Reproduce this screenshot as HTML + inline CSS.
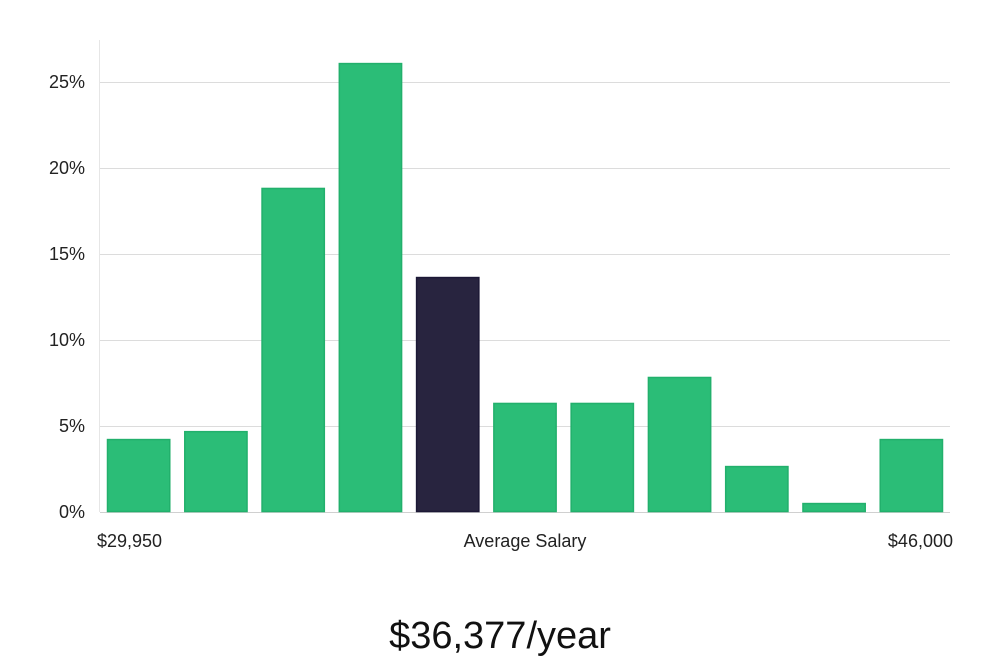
<!DOCTYPE html>
<html><head><meta charset="utf-8"><style>
html,body{margin:0;padding:0;background:#fff;}
svg{display:block;font-family:"Liberation Sans","DejaVu Sans",sans-serif;}
</style></head><body>
<svg id="chart" width="1000" height="660" viewBox="0 0 1000 660">
<g id="grid"></g>
<line x1="99.5" y1="40" x2="99.5" y2="512" stroke="#e6e6e6"/>
<g id="yticks"></g>
<g id="bars"></g>
<text x="97" y="547" font-size="18" fill="#222">$29,950</text>
<text x="525" y="547" font-size="18" fill="#222" text-anchor="middle">Average Salary</text>
<text x="953" y="547" font-size="18" fill="#222" text-anchor="end">$46,000</text>
<text x="500" y="648" font-size="38" fill="#111" text-anchor="middle">$36,377/year</text>
</svg>
<script>
const categories = ["b1","b2","b3","b4","b5","b6","b7","b8","b9","b10","b11"];
const values = [4.24, 4.7, 18.84, 26.1, 13.66, 6.34, 6.34, 7.85, 2.67, 0.52, 4.24];
const highlightIndex = 4;
const tickValues = [0, 5, 10, 15, 20, 25];
const tickLabels = ["0%","5%","10%","15%","20%","25%"];

const NS = "http://www.w3.org/2000/svg";
const plotLeft = 100, plotRight = 950, y0 = 512, pxPerUnit = 86/5;
function yScale(v){ return y0 - v*pxPerUnit; }
const slot = (plotRight - plotLeft)/categories.length;
function xScale(i){ return plotLeft + i*slot + 7; }
const barW = slot - 14;

const grid = document.getElementById("grid");
const yt = document.getElementById("yticks");
tickValues.forEach((t,i)=>{
  const y = Math.round(yScale(t)) + 0.5;
  const l = document.createElementNS(NS,"line");
  l.setAttribute("x1",100); l.setAttribute("x2",950);
  l.setAttribute("y1",y); l.setAttribute("y2",y);
  l.setAttribute("stroke",t===0?"#d0d0d0":"#dcdcdc");
  
  
  grid.appendChild(l);
  const tx = document.createElementNS(NS,"text");
  tx.setAttribute("x",85); tx.setAttribute("y",yScale(t)+6);
  tx.setAttribute("text-anchor","end"); tx.setAttribute("font-size","18"); tx.setAttribute("fill","#222");
  tx.textContent = tickLabels[i];
  
  
  yt.appendChild(tx);
});
const bars = document.getElementById("bars");
values.forEach((v,i)=>{
  const r = document.createElementNS(NS,"rect");
  const top = yScale(v);
  r.setAttribute("x",xScale(i)+0.5); r.setAttribute("y",top+0.5);
  r.setAttribute("width",barW-1); r.setAttribute("height",Math.max(0,y0-top-1));
  const hi = i===highlightIndex;
  r.setAttribute("fill",hi?"#28243f":"#2bbd77");
  r.setAttribute("stroke",hi?"#1c1836":"#22b06c");
  r.setAttribute("stroke-width","1.5");
  
  
  bars.appendChild(r);
});
</script>
</body></html>
